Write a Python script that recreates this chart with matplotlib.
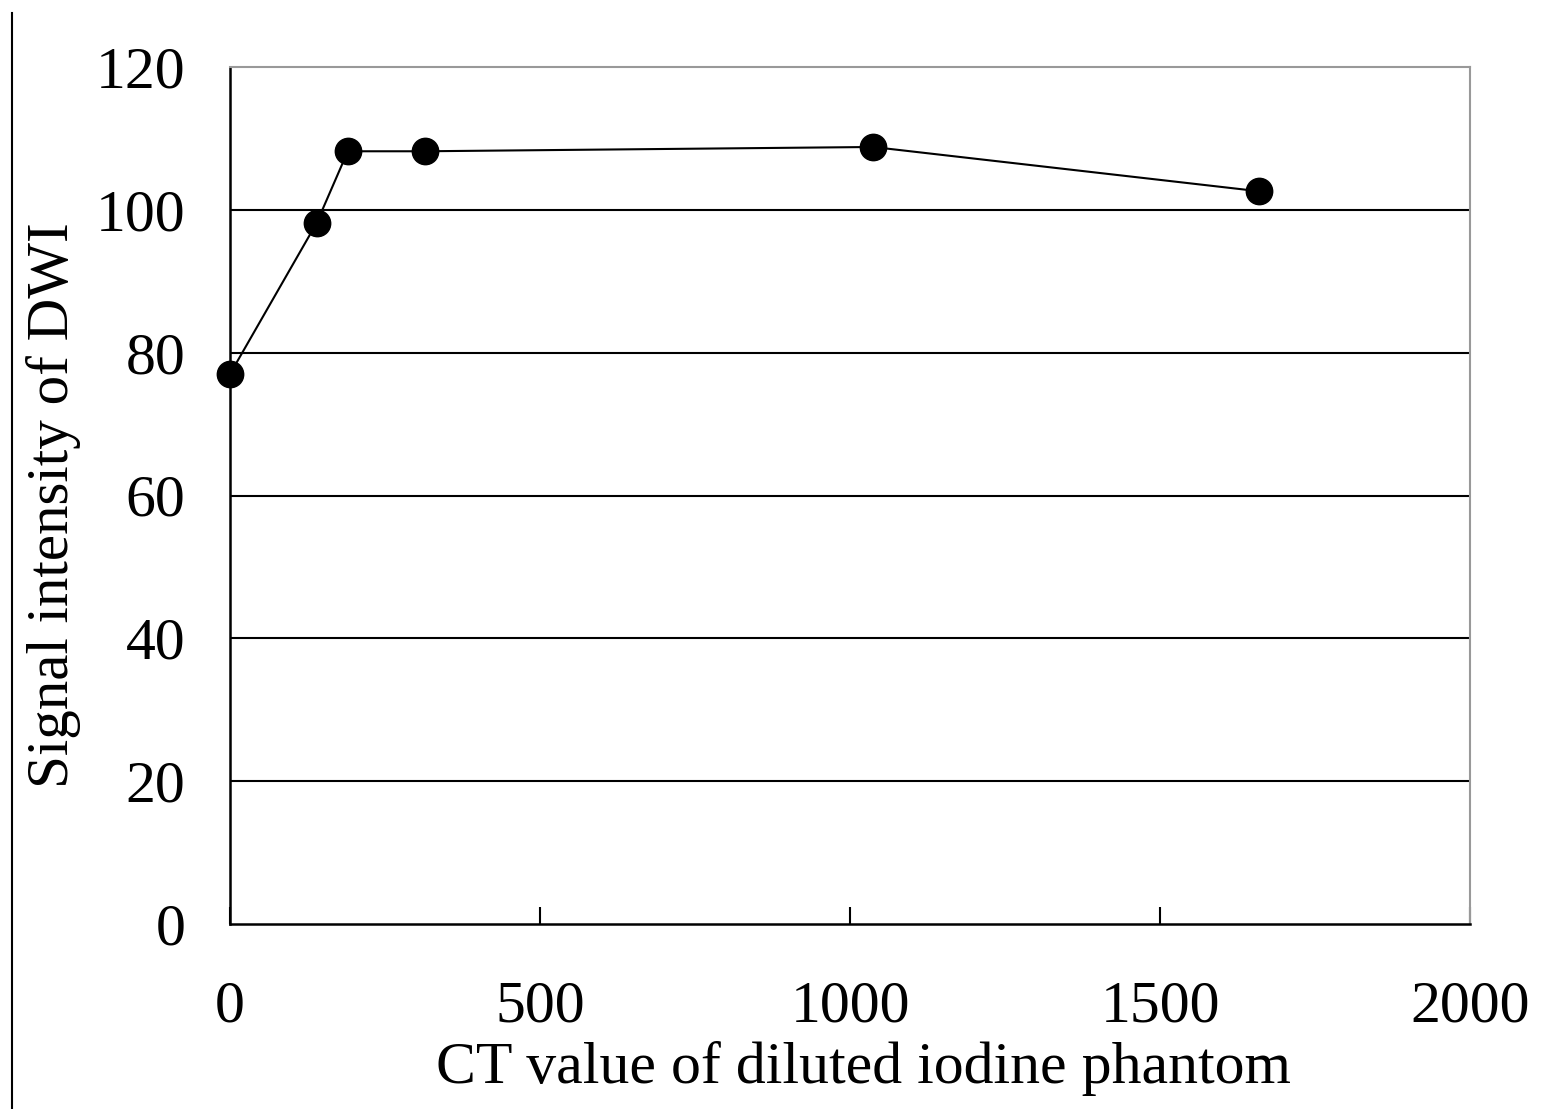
import matplotlib
matplotlib.use("Agg")
import matplotlib.pyplot as plt
from matplotlib.lines import Line2D

ct_values = [0, 140, 190, 315, 1037, 1660]
signal = [77, 98.2, 108.2, 108.2, 108.8, 102.6]
x_ticks = [0, 500, 1000, 1500, 2000]
y_ticks = [0, 20, 40, 60, 80, 100, 120]

plt.rcParams['font.family'] = ['Liberation Serif', 'DejaVu Serif']

fig = plt.figure(figsize=(15.53, 11.09), dpi=100)
ax = fig.add_axes([230/1553, 1 - 924/1109, (1470-230)/1553, (924-67)/1109])

ax.set_xlim(0, 2000)
ax.set_ylim(0, 120)
ax.set_xticks(x_ticks)
ax.set_yticks(y_ticks)
ax.tick_params(axis='x', direction='in', length=12, width=1.5, pad=41, labelsize=43)
ax.tick_params(axis='y', direction='in', length=0, width=1.5, pad=32, labelsize=43)

for y in y_ticks[1:-1]:
    ax.axhline(y, color='black', lw=1.5, zorder=1)

ax.spines['left'].set_linewidth(1.8)
ax.spines['bottom'].set_linewidth(1.8)
ax.spines['top'].set_color('#999999')
ax.spines['right'].set_color('#999999')
ax.spines['top'].set_linewidth(1.5)
ax.spines['right'].set_linewidth(1.5)

ax.plot(ct_values, signal, color='black', lw=1.5, marker='o', markersize=19,
        clip_on=False, zorder=3)

ax.set_xlabel('CT value of diluted iodine phantom', fontsize=43, labelpad=4)
ax.set_ylabel('Signal intensity of DWI', fontsize=42.5, labelpad=11)
ax.xaxis.label.set_x(0.511)
ax.yaxis.label.set_y(0.489)

fig.add_artist(Line2D([12/1553, 12/1553], [0, 1 - 13/1109], transform=fig.transFigure,
                      color='black', lw=1.5))

fig.savefig('out.png', dpi=100, facecolor='white')
